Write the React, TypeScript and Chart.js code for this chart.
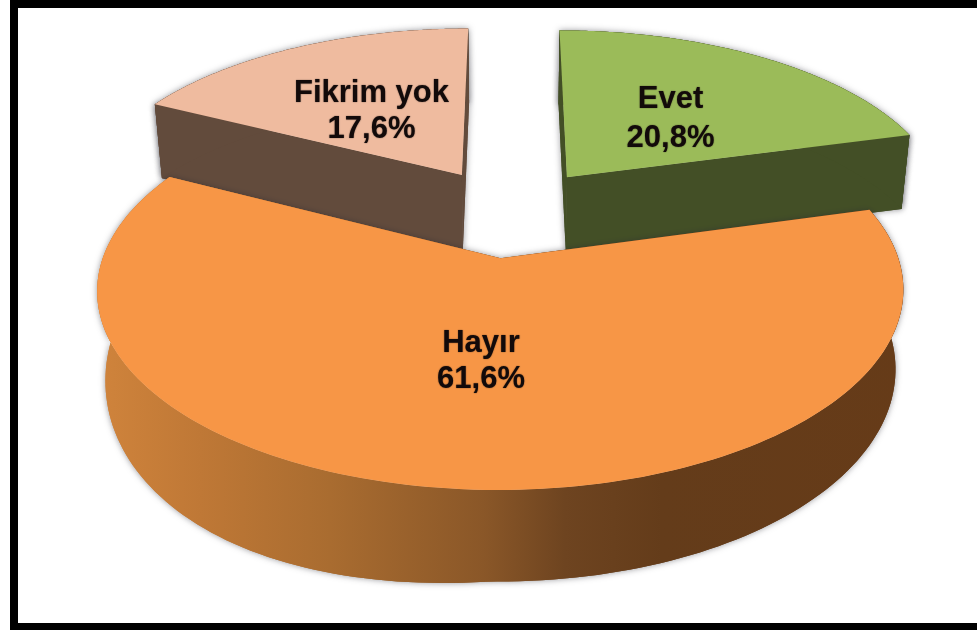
import React, { useEffect, useRef } from "react";
import { Chart, registerables } from "chart.js";

Chart.register(...registerables);

const categories = ["Evet", "Hayır", "Fikrim yok"];
const shares = [20.8, 61.6, 17.6];
const shareLabels = ["20,8%", "61,6%", "17,6%"];
const topColors = ["#9BBB59", "#F79646", "#EFBB9F"];
const wallColors = ["#434F26", "#8A5728", "#624B3C"];

// Perspective camera that turns the pie's disc into the tilted picture.
const CAM = { cx: 510.5, cy: 211.9, sx: 382.5, sy: 179.6, persp: 0.155, depth: 74, shrink: 0.98 };
const project = (X: number, Y: number, lower: boolean) => {
  const w = 1 - CAM.persp * Y;
  let x = CAM.cx + (CAM.sx * X) / w;
  let y = CAM.cy + (CAM.sy * Y) / w;
  if (lower) {
    const grow = 14 + (x < 490 ? (490 - x) * 0.06 : 0);
    y += CAM.depth + Math.max(0, Y) * grow;
    x = CAM.cx + (x - CAM.cx) * CAM.shrink;
  }
  return { x, y };
};

const labelPlace = [
  { x: 670.5, y1: 108, y2: 147 },
  { x: 481, y1: 352, y2: 388 },
  { x: 371.5, y1: 102, y2: 138 },
];

const pie3d = {
  id: "pie3d",
  beforeDatasetsDraw(chart: any) {
    const ctx: CanvasRenderingContext2D = chart.ctx;
    const arcs = chart.getDatasetMeta(0).data as any[];
    const unit = Math.min(chart.chartArea.width, chart.chartArea.height) / 2;
    const slices = arcs.map((arc, i) => {
      const { startAngle, endAngle } = arc.getProps(["startAngle", "endAngle"], true);
      const mid = (startAngle + endAngle) / 2;
      const e = arc.options.offset / unit;
      return { i, a0: startAngle, a1: endAngle, ox: e * Math.cos(mid), oy: e * Math.sin(mid) };
    });
    slices.sort((p, q) => p.oy - q.oy);

    for (const s of slices) {
      const n = 160;
      const rim = (lower: boolean) => {
        const pts = [];
        for (let k = 0; k <= n; k++) {
          const a = s.a0 + ((s.a1 - s.a0) * k) / n;
          pts.push(project(s.ox + Math.cos(a), s.oy + Math.sin(a), lower));
        }
        return pts;
      };
      const up = rim(false);
      const lo = rim(true);
      const apexUp = project(s.ox, s.oy, false);
      const apexLo = project(s.ox, s.oy, true);

      let wall: any = wallColors[s.i];
      if (categories[s.i] === "Hayır") {
        const g = ctx.createLinearGradient(95, 0, 905, 0);
        g.addColorStop(0, "#D0843C");
        g.addColorStop(0.13, "#BF7836");
        g.addColorStop(0.29, "#A96C30");
        g.addColorStop(0.48, "#8A5728");
        g.addColorStop(0.58, "#6E4420");
        g.addColorStop(0.7, "#643C1A");
        g.addColorStop(1, "#663B18");
        wall = g;
      }

      const poly = (pts: { x: number; y: number }[]) => {
        ctx.beginPath();
        pts.forEach((p, k) => (k ? ctx.lineTo(p.x, p.y) : ctx.moveTo(p.x, p.y)));
        ctx.closePath();
      };
      const walls = () => {
        poly([apexUp, up[0], lo[0], apexLo]);
        ctx.fill();
        poly([apexUp, up[n], lo[n], apexLo]);
        ctx.fill();
        poly([...up, ...lo.slice().reverse()]);
        ctx.fill();
      };

      ctx.save();
      ctx.fillStyle = wall;
      ctx.shadowColor = "rgba(40,40,50,0.5)";
      ctx.shadowBlur = 6;
      walls();
      ctx.restore();
      ctx.fillStyle = wall;
      walls();

      ctx.fillStyle = topColors[s.i];
      poly([apexUp, ...up]);
      ctx.fill();
    }
    return false;
  },
  afterDraw(chart: any) {
    const ctx: CanvasRenderingContext2D = chart.ctx;
    ctx.save();
    ctx.font = 'bold 31px "Liberation Sans", Arial, sans-serif';
    ctx.textAlign = "center";
    ctx.textBaseline = "alphabetic";
    ctx.fillStyle = "#120A0A";
    ctx.shadowColor = "rgba(18,10,10,0.6)";
    ctx.shadowBlur = 1.5;
    categories.forEach((c, i) => {
      const l = labelPlace[i];
      ctx.fillText(c, l.x, l.y1);
      ctx.fillText(shareLabels[i], l.x, l.y2);
    });
    ctx.restore();
  },
};

export default function App() {
  const ref = useRef<HTMLCanvasElement>(null);
  useEffect(() => {
    const chart = new Chart(ref.current!, {
      type: "pie",
      data: {
        labels: categories,
        datasets: [{ data: shares, backgroundColor: topColors, borderWidth: 0, offset: 78.75 }],
      },
      options: {
        animation: false,
        responsive: false,
        layout: { padding: 0 },
        plugins: { legend: { display: false }, tooltip: { enabled: false } },
      },
      plugins: [pie3d],
    } as any);
    return () => chart.destroy();
  }, []);
  const edge = { position: "fixed", background: "#000" } as const;
  return (
    <div style={{ position: "fixed", left: 0, top: 0, width: 977, height: 630, background: "#fff", overflow: "hidden" }}>
      <div style={{ ...edge, left: 10, top: 0, width: 967, height: 8 }} />
      <div style={{ ...edge, left: 10, top: 623, width: 967, height: 7 }} />
      <div style={{ ...edge, left: 10, top: 0, width: 8, height: 630 }} />
      <canvas ref={ref} width={977} height={630} style={{ position: "absolute", left: 0, top: 0, display: "block" }} />
    </div>
  );
}
